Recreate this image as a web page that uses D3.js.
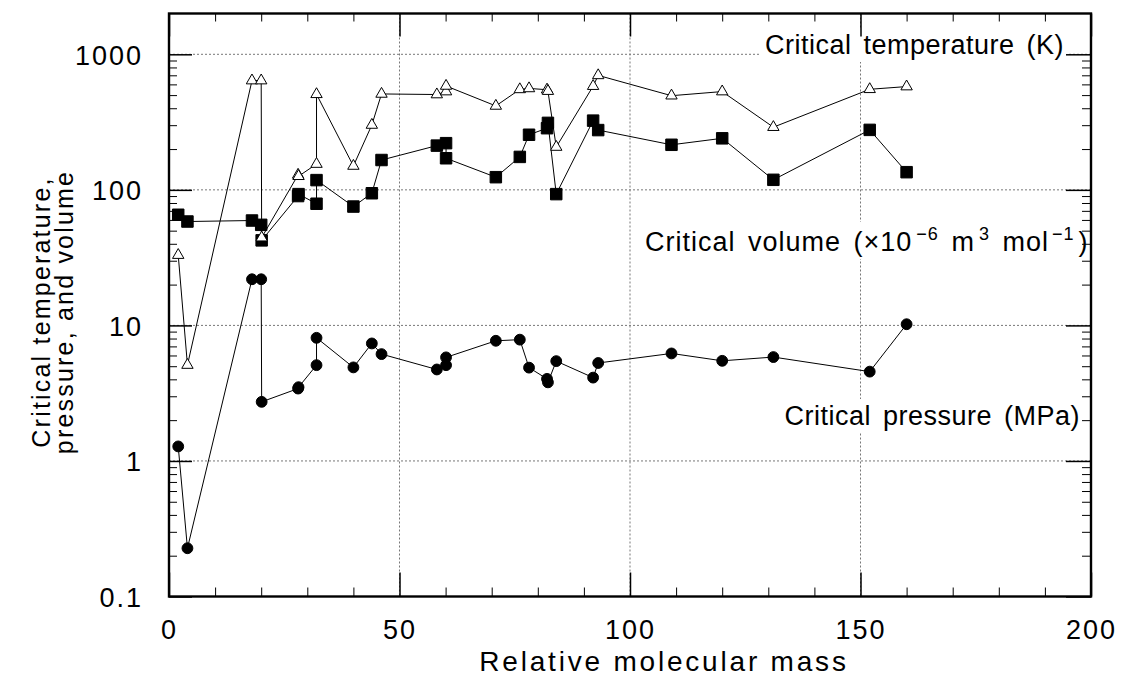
<!DOCTYPE html>
<html lang="en">
<head>
<meta charset="UTF-8">
<title>Critical constants vs relative molecular mass</title>
<script src="https://d3js.org/d3.v7.min.js"></script>
<style>
  body { margin: 0; background: #fff; }
  svg text { font-family: "Liberation Sans", Arial, Helvetica, sans-serif; fill: #000; }
</style>
</head>
<body>
<div id="chart"></div>
<script>
// relative molecular mass of each substance (x values)
const mass = [2.0, 4.0, 18.0, 20.0, 20.1, 28.0, 28.1, 32.0, 32.0, 40.0, 44.0, 46.1,
              58.1, 60.1, 60.1, 70.9, 76.1, 78.1, 82.0, 82.2, 84.0, 92.0, 93.1,
              109.0, 120.0, 131.1, 152.0, 160.0];
// critical temperature (K)  - open triangles
const tempK = [33, 5.1, 640, 640, 44.4, 129, 126, 155, 507, 150, 301, 510,
               505, 531, 584, 416, 551, 560, 548, 535, 207, 582, 699,
               495, 531, 290, 552, 578];
// critical pressure (MPa)  - filled circles
const pressMPa = [1.28, 0.227, 21.9, 21.9, 2.73, 3.42, 3.50, 5.09, 8.1, 4.9, 7.36, 6.14,
                  4.73, 5.09, 5.81, 7.7, 7.85, 4.88, 4.03, 3.80, 5.45, 4.12, 5.28,
                  6.21, 5.48, 5.84, 4.56, 10.2];
// critical volume (1e-6 m3/mol)  - filled squares
const volume = [65.5, 58.4, 59.4, 55.2, 42.4, 90, 93, 79, 118, 75.3, 94.4, 166,
                212, 221, 171, 124, 175, 255, 285, 312, 93, 324, 276,
                215, 240, 118.6, 277, 135];

const xTicks = [0, 50, 100, 150, 200];
const xMinorTicks = [10, 20, 30, 40, 60, 70, 80, 90, 110, 120, 130, 140, 160, 170, 180, 190];
const yTicks = [0.1, 1, 10, 100, 1000];
const yTickLabels = ["0.1", "1", "10", "100", "1000"];

const width = 1125, height = 679;
const margin = { top: 13.5, right: 34, bottom: 82.5, left: 169 };

const svg = d3.select("#chart").append("svg")
    .attr("width", width)
    .attr("height", height);

const x = d3.scaleLinear().domain([0, 200]).range([margin.left, width - margin.right]);
const y = d3.scaleLog().domain([0.1, 2000]).range([height - margin.bottom, margin.top]);

const x0 = x.range()[0], x1 = x.range()[1];
const y0 = y.range()[0], y1 = y.range()[1];

// minor log ticks 2..9 in each decade
const yMinorTicks = [];
[0.1, 1, 10, 100].forEach(d => { for (let k = 2; k <= 9; k++) yMinorTicks.push(d * k); });

// grid lines
const grid = svg.append("g").attr("stroke", "#777").attr("stroke-width", 1).attr("stroke-dasharray", "2,2");
grid.selectAll("line.gx").data(xTicks.slice(1, -1)).join("line")
    .attr("x1", d => x(d)).attr("x2", d => x(d)).attr("y1", y1).attr("y2", y0);
grid.selectAll("line.gy").data(yTicks.slice(1)).join("line")
    .attr("x1", x0).attr("x2", x1).attr("y1", d => y(d)).attr("y2", d => y(d));

// label boxes (cover grid lines), filled later
const boxLayer = svg.append("g");

// axes with inward ticks
function styleAxis(g, w) {
    g.select(".domain").remove();
    g.selectAll(".tick line").attr("stroke", "#000").attr("stroke-width", w);
}
svg.append("g").attr("transform", `translate(0,${y0})`)
    .call(d3.axisBottom(x).tickValues(xMinorTicks).tickSize(-9).tickFormat(""))
    .call(g => styleAxis(g, 1));
svg.append("g").attr("transform", `translate(0,${y1})`)
    .call(d3.axisTop(x).tickValues(xMinorTicks).tickSize(-8).tickFormat(""))
    .call(g => styleAxis(g, 1));
svg.append("g").attr("transform", `translate(0,${y1})`)
    .call(d3.axisTop(x).tickValues(xTicks).tickSize(-23).tickFormat(""))
    .call(g => styleAxis(g, 1.5));
const xAxis = svg.append("g").attr("transform", `translate(0,${y0})`)
    .call(d3.axisBottom(x).tickValues(xTicks).tickSize(-24).tickPadding(24).tickFormat(d3.format("d")))
    .call(g => styleAxis(g, 1.5));

svg.append("g").attr("transform", `translate(${x0},0)`)
    .call(d3.axisLeft(y).tickValues(yMinorTicks).tickSize(-8).tickFormat(""))
    .call(g => styleAxis(g, 1));
svg.append("g").attr("transform", `translate(${x1},0)`)
    .call(d3.axisRight(y).tickValues(yMinorTicks).tickSize(-9).tickFormat(""))
    .call(g => styleAxis(g, 1));
svg.append("g").attr("transform", `translate(${x1},0)`)
    .call(d3.axisRight(y).tickValues(yTicks).tickSize(-25).tickFormat(""))
    .call(g => styleAxis(g, 1.5));
const yAxis = svg.append("g").attr("transform", `translate(${x0},0)`)
    .call(d3.axisLeft(y).tickValues(yTicks).tickSize(-23).tickPadding(26)
        .tickFormat((d, i) => yTickLabels[i]))
    .call(g => styleAxis(g, 1.5));

xAxis.selectAll(".tick text")
    .attr("font-size", 27).attr("letter-spacing", 2).attr("dy", "0.7em");
yAxis.selectAll(".tick text")
    .attr("font-size", 27).attr("letter-spacing", 2).attr("dy", "0.36em");

// frame
svg.append("rect")
    .attr("x", x0).attr("y", y1)
    .attr("width", x1 - x0).attr("height", y0 - y1)
    .attr("fill", "none").attr("stroke", "#000").attr("stroke-width", 2.4);

// series
const idx = d3.range(mass.length);
const series = [
    { values: volume, symbol: d3.symbolSquare, size: 132, fill: "#000" },
    { values: pressMPa, symbol: d3.symbolCircle, size: 92, fill: "#000" },
    { values: tempK, symbol: d3.symbolTriangle, size: 56, fill: "#fff" }
];
const line = d3.line();
series.forEach(s => {
    svg.append("path")
        .attr("d", line(idx.map(i => [x(mass[i]), y(s.values[i])])))
        .attr("fill", "none").attr("stroke", "#000").attr("stroke-width", 1);
});
series.forEach(s => {
    svg.append("g").selectAll("path").data(idx).join("path")
        .attr("transform", i => `translate(${x(mass[i])},${y(s.values[i])})`)
        .attr("d", d3.symbol(s.symbol, s.size))
        .attr("fill", s.fill).attr("stroke", "#000").attr("stroke-width", 1);
});

// in-plot labels
const labelFont = 27;
function label(xPos, yPos, anchor, ls, build) {
    const t = svg.append("text")
        .attr("x", xPos).attr("y", yPos)
        .attr("text-anchor", anchor)
        .attr("font-size", labelFont).attr("letter-spacing", ls)
        .attr("word-spacing", 4);
    build(t);
    const b = t.node().getBBox();
    boxLayer.append("rect")
        .attr("x", b.x - 4).attr("y", b.y - 2)
        .attr("width", b.width + 8).attr("height", b.height + 4)
        .attr("fill", "#fff");
}
label(1064, 54, "end", 0.5, t => t.text("Critical temperature (K)"));
label(645, 251, "start", 1, t => {
    t.append("tspan").text("Critical volume (\u00d710");
    t.append("tspan").attr("font-size", 18).attr("dx", 4).attr("dy", -11).text("\u2212" + "6");
    t.append("tspan").attr("dy", 11).text(" m");
    t.append("tspan").attr("font-size", 18).attr("dx", 4).attr("dy", -11).text("3");
    t.append("tspan").attr("dy", 11).text(" mol");
    t.append("tspan").attr("font-size", 18).attr("dx", 3).attr("dy", -11).text("\u2212" + "1");
    t.append("tspan").attr("dx", 4).attr("dy", 11).text(")");
});
label(1080, 425, "end", 0.5, t => t.text("Critical pressure (MPa)"));

// axis titles
svg.append("text")
    .attr("x", 664).attr("y", 671)
    .attr("text-anchor", "middle")
    .attr("font-size", 28).attr("letter-spacing", 2.8)
    .text("Relative molecular mass");

const yTitle = svg.append("text")
    .attr("transform", "translate(0,312) rotate(-90)")
    .attr("text-anchor", "middle")
    .attr("font-size", 25).attr("letter-spacing", 2.2);
yTitle.append("tspan").attr("x", 0).attr("y", 50).text("Critical temperature,");
yTitle.append("tspan").attr("x", 0).attr("y", 73).text("pressure, and volume");
</script>
</body>
</html>
